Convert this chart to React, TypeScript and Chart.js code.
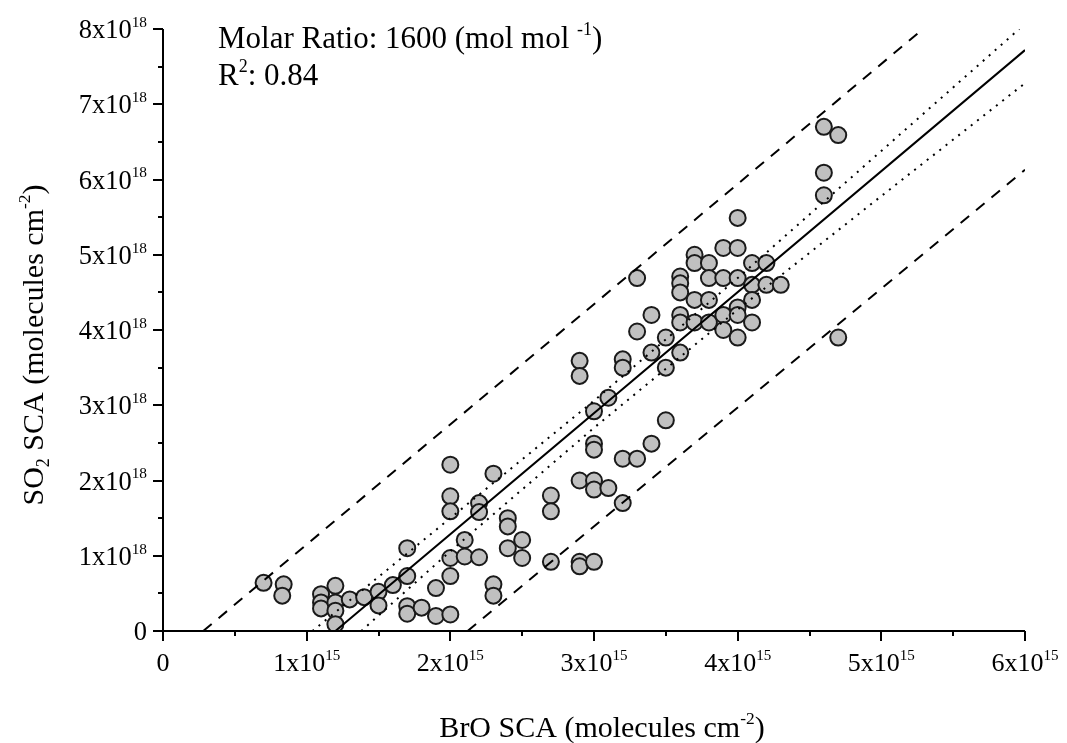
import React, { useEffect, useRef } from "react";
import { Chart, registerables } from "chart.js";
Chart.register(...registerables);

// BrO SCA in units of 1e15 molecules cm-2, SO2 SCA in units of 1e18 molecules cm-2
const broSCA = [
  0.70, 0.84, 0.83,
  1.10, 1.10, 1.10,
  1.20, 1.20, 1.20, 1.20,
  1.30, 1.40, 1.50, 1.50,
  1.60, 1.70, 1.70, 1.70, 1.70,
  1.80, 1.90, 1.90,
  2.00, 2.00, 2.00, 2.00, 2.00, 2.00,
  2.10, 2.10, 2.20, 2.20, 2.20,
  2.30, 2.30, 2.30,
  2.40, 2.40, 2.40,
  2.50, 2.50,
  2.70, 2.70, 2.70,
  2.90, 2.90, 2.90, 2.90, 2.90,
  3.00, 3.00, 3.00, 3.00, 3.00, 3.00,
  3.10, 3.10,
  3.20, 3.20, 3.20, 3.20,
  3.30, 3.30, 3.30,
  3.40, 3.40, 3.40,
  3.50, 3.50, 3.50,
  3.60, 3.60, 3.60, 3.60, 3.60, 3.60,
  3.70, 3.70, 3.70, 3.70,
  3.80, 3.80, 3.80, 3.80,
  3.90, 3.90, 3.90, 3.90,
  4.00, 4.00, 4.00, 4.00, 4.00, 4.00,
  4.10, 4.10, 4.10, 4.10,
  4.20, 4.20,
  4.30,
  4.60, 4.60, 4.60,
  4.70, 4.70,
];
const so2SCA = [
  0.64, 0.62, 0.47,
  0.49, 0.38, 0.30,
  0.60, 0.38, 0.27, 0.09,
  0.42, 0.45, 0.52, 0.34,
  0.61, 0.73, 1.10, 0.33, 0.23,
  0.31, 0.57, 0.20,
  2.21, 1.79, 1.59, 0.97, 0.73, 0.22,
  1.21, 0.99, 1.70, 1.58, 0.98,
  2.09, 0.62, 0.47,
  1.50, 1.39, 1.10,
  1.21, 0.97,
  1.80, 1.59, 0.92,
  3.59, 3.39, 2.00, 0.92, 0.86,
  2.92, 2.49, 2.41, 2.00, 1.88, 0.92,
  3.10, 1.90,
  3.61, 3.50, 2.29, 1.70,
  4.69, 3.98, 2.29,
  4.20, 3.70, 2.49,
  3.90, 3.50, 2.80,
  4.71, 4.62, 4.50, 4.20, 4.10, 3.70,
  5.00, 4.89, 4.40, 4.10,
  4.89, 4.69, 4.40, 4.10,
  5.09, 4.69, 4.20, 4.00,
  5.49, 5.09, 4.69, 4.30, 4.20, 3.90,
  4.89, 4.60, 4.40, 4.10,
  4.89, 4.60,
  4.60,
  6.70, 6.09, 5.79,
  6.59, 3.90,
];

// Regression line and bands
const fitX = [1.2, 6.0];
const fitY = [0, 7.72];
const upperConfX = [1.04, 2.0, 3.0, 4.0, 5.0, 5.96];
const upperConfY = [0, 1.5, 3.06, 4.69, 6.38, 8.0];
const lowerConfX = [1.38, 2.0, 3.0, 4.0, 5.0, 6.0];
const lowerConfY = [0, 1.06, 2.7, 4.27, 5.78, 7.28];
const upperPredX = [0.28, 5.29];
const upperPredY = [0, 8.0];
const lowerPredX = [2.12, 6.0];
const lowerPredY = [0, 6.13];

const xTickLabels = ["0", "1x10^15", "2x10^15", "3x10^15", "4x10^15", "5x10^15", "6x10^15"];
const yTickLabels = ["0", "1x10^18", "2x10^18", "3x10^18", "4x10^18", "5x10^18", "6x10^18", "7x10^18", "8x10^18"];

const annotationLine1 = "Molar Ratio: 1600 (mol mol ^-1^)";
const annotationLine2 = "R^2^: 0.84";
const xTitle = "BrO SCA (molecules cm^-2^)";
const yTitle = "SO_2_ SCA (molecules cm^-2^)";

const FONT = '"Liberation Serif", "Times New Roman", serif';

type Part = { t: string; s: number; dy: number };

function zip(xs: number[], ys: number[]) {
  return xs.map((x, i) => ({ x, y: ys[i] }));
}

// parse "a^sup^b_sub_" markup
function parseRich(text: string, size: number): Part[] {
  const parts: Part[] = [];
  const re = /\^([^^]*)\^|_([^_]*)_|([^^_]+)/g;
  let m: RegExpExecArray | null;
  while ((m = re.exec(text))) {
    if (m[1] !== undefined) parts.push({ t: m[1], s: size * 0.58, dy: -size * 0.42 });
    else if (m[2] !== undefined) parts.push({ t: m[2], s: size * 0.6, dy: size * 0.2 });
    else parts.push({ t: m[3], s: size, dy: 0 });
  }
  return parts;
}

// simple tick label format "1x10^15"
function parseTick(text: string, size: number): Part[] {
  const [base, exp] = text.split("^");
  const parts: Part[] = [{ t: base, s: size, dy: 0 }];
  if (exp) parts.push({ t: exp, s: size * 0.58, dy: -size * 0.42 });
  return parts;
}

function drawRich(ctx: CanvasRenderingContext2D, parts: Part[], x: number, y: number, align: string) {
  let w = 0;
  const widths: number[] = [];
  for (const p of parts) {
    ctx.font = `${p.s}px ${FONT}`;
    const mw = ctx.measureText(p.t).width;
    widths.push(mw);
    w += mw;
  }
  let cx = align === "center" ? x - w / 2 : align === "right" ? x - w : x;
  ctx.textAlign = "left";
  ctx.textBaseline = "alphabetic";
  parts.forEach((p, i) => {
    ctx.font = `${p.s}px ${FONT}`;
    ctx.fillText(p.t, cx, y + p.dy);
    cx += widths[i];
  });
}

const decorPlugin = {
  id: "decor",
  afterDraw(chart: any) {
    const ctx: CanvasRenderingContext2D = chart.ctx;
    const xs = chart.scales.x;
    const ys = chart.scales.y;
    const area = chart.chartArea;
    ctx.save();
    ctx.fillStyle = "#000";
    ctx.strokeStyle = "#000";
    ctx.lineWidth = 2;

    // axis lines
    ctx.beginPath();
    ctx.moveTo(area.left, area.top);
    ctx.lineTo(area.left, area.bottom);
    ctx.lineTo(area.right, area.bottom);
    ctx.stroke();

    // tick marks
    ctx.beginPath();
    for (const t of xs.ticks) {
      const px = Math.round(xs.getPixelForValue(t.value));
      const major = Math.abs(t.value - Math.round(t.value)) < 1e-9;
      ctx.moveTo(px, area.bottom);
      ctx.lineTo(px, area.bottom + (major ? 10 : 5));
    }
    for (const t of ys.ticks) {
      const py = Math.round(ys.getPixelForValue(t.value));
      const major = Math.abs(t.value - Math.round(t.value)) < 1e-9;
      ctx.moveTo(area.left, py);
      ctx.lineTo(area.left - (major ? 10 : 5), py);
    }
    ctx.stroke();

    // tick labels
    xTickLabels.forEach((lab, i) => {
      const px = xs.getPixelForValue(i);
      drawRich(ctx, parseTick(lab, 26), px, area.bottom + 40, "center");
    });
    yTickLabels.forEach((lab, i) => {
      const py = ys.getPixelForValue(i);
      drawRich(ctx, parseTick(lab, 26.5), area.left - 16, py + 9, "right");
    });

    // annotation
    drawRich(ctx, parseRich(annotationLine1, 31), 218, 48, "left");
    drawRich(ctx, parseRich(annotationLine2, 31), 218, 85, "left");

    // axis titles
    drawRich(ctx, parseRich(xTitle, 30), (area.left + area.right) / 2 + 8, 737, "center");
    ctx.save();
    ctx.translate(43, (area.top + area.bottom) / 2 + 15);
    ctx.rotate(-Math.PI / 2);
    drawRich(ctx, parseRich(yTitle, 30), 0, 0, "center");
    ctx.restore();

    ctx.restore();
  },
};

export default function App() {
  const ref = useRef<HTMLCanvasElement | null>(null);
  useEffect(() => {
    if (!ref.current) return;
    const lineBase = {
      showLine: true,
      pointRadius: 0,
      pointHoverRadius: 0,
      borderColor: "#000",
      fill: false,
      tension: 0,
      order: 0,
    };
    const chart = new Chart(ref.current, {
      type: "scatter",
      data: {
        datasets: [
          { ...lineBase, label: "fit", data: zip(fitX, fitY), borderWidth: 2 },
          { ...lineBase, label: "upper conf", data: zip(upperConfX, upperConfY), borderWidth: 2, borderDash: [2, 6] },
          { ...lineBase, label: "lower conf", data: zip(lowerConfX, lowerConfY), borderWidth: 2, borderDash: [2, 6] },
          { ...lineBase, label: "upper pred", data: zip(upperPredX, upperPredY), borderWidth: 2, borderDash: [11, 9] },
          { ...lineBase, label: "lower pred", data: zip(lowerPredX, lowerPredY), borderWidth: 2, borderDash: [11, 9] },
          {
            label: "data",
            data: zip(broSCA, so2SCA),
            pointRadius: 8,
            pointHoverRadius: 8,
            pointBackgroundColor: "#c0c0c0",
            pointBorderColor: "#1a1a1a",
            pointBorderWidth: 2,
            showLine: false,
            order: 10,
          } as any,
        ],
      },
      options: {
        animation: false,
        responsive: false,
        devicePixelRatio: 1,
        layout: { padding: { left: 0, right: 42, top: 29, bottom: 0 } },
        plugins: { legend: { display: false }, tooltip: { enabled: false } },
        scales: {
          x: {
            type: "linear",
            min: 0,
            max: 6,
            ticks: { display: false, stepSize: 0.5 },
            grid: { display: false },
            border: { display: false },
            afterFit: (s: any) => { s.height = 112; },
          },
          y: {
            type: "linear",
            min: 0,
            max: 8,
            ticks: { display: false, stepSize: 0.5 },
            grid: { display: false },
            border: { display: false },
            afterFit: (s: any) => { s.width = 163; },
          },
        },
      },
      plugins: [decorPlugin],
    } as any);
    return () => chart.destroy();
  }, []);
  return (
    <div style={{ position: "fixed", left: 0, top: 0, width: 1067, height: 743, background: "#fff" }}>
      <canvas ref={ref} width={1067} height={743} />
    </div>
  );
}
